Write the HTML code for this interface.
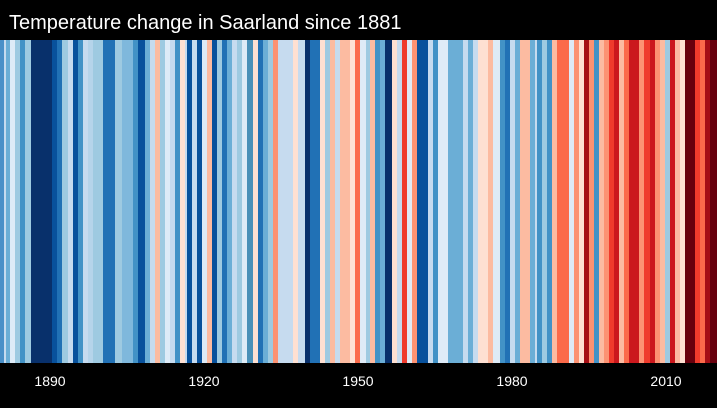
<!DOCTYPE html>
<html><head><meta charset="utf-8"><style>
html,body{margin:0;padding:0;background:#000;}
body{width:717px;height:403px;overflow:hidden;}
</style></head><body>
<svg width="717" height="403" xmlns="http://www.w3.org/2000/svg" font-family="Liberation Sans, sans-serif">
<rect width="717" height="403" fill="#000"/>
<text x="9" y="29" fill="#fff" font-size="20">Temperature change in Saarland since 1881</text>
<g id="s" shape-rendering="crispEdges"></g>
<g fill="#fff" font-size="14" text-anchor="middle">
<text x="50" y="386">1890</text>
<text x="204" y="386">1920</text>
<text x="358" y="386">1950</text>
<text x="512" y="386">1980</text>
<text x="666" y="386">2010</text>
</g>
</svg>
<script>
var d=[[0,"#4a90c8"],[4,"#c6dbef"],[6,"#6baed6"],[10,"#deebf7"],[15,"#9ecae1"],[20,"#4292c6"],[25,"#9ecae1"],[31,"#08306b"],[52,"#08519c"],[57,"#2171b5"],[62,"#9ecae1"],[68,"#c6dbef"],[73,"#08519c"],[78,"#4292c6"],[83,"#c6dbef"],[88,"#b5d4ea"],[93,"#9ecae1"],[103,"#2171b5"],[115,"#9ecae1"],[122,"#7fb8dc"],[133,"#4292c6"],[138,"#08519c"],[145,"#6baed6"],[150,"#c6dbef"],[155,"#fcbba1"],[160,"#9ecae1"],[165,"#deebf7"],[170,"#c6dbef"],[175,"#4292c6"],
[180,"#fee0d2"],[185,"#c6dbef"],[187,"#08519c"],[192,"#c6dbef"],[197,"#08519c"],[202,"#deebf7"],[207,"#fcbba1"],[212,"#08519c"],[217,"#9ecae1"],[222,"#2171b5"],[227,"#6baed6"],[232,"#c6dbef"],[237,"#9ecae1"],[242,"#deebf7"],[247,"#4a90b8"],[253,"#fee0d2"],[258,"#2171b5"],[263,"#6baed6"],[268,"#9ecae1"],[273,"#fc9272"],[278,"#c6dbef"],[293,"#fee0d2"],[298,"#c6dbef"],[305,"#08306b"],[310,"#2171b5"],[320,"#fee0d2"],[325,"#9ecae1"],[330,"#fcbba1"],[335,"#c6dbef"],[340,"#fcbba1"],[350,"#fee0d2"],[355,"#fb6a4a"],
[360,"#deebf7"],[366,"#9ecae1"],[370,"#fcbba1"],[375,"#4292c6"],[380,"#6baed6"],[385,"#08306b"],[392,"#fee0d2"],[397,"#c6dbef"],[402,"#ef3b2c"],[407,"#deebf7"],[412,"#fc9272"],[417,"#08519c"],[428,"#c6dbef"],[433,"#4292c6"],[438,"#deebf7"],[448,"#6baed6"],[463,"#c6dbef"],[468,"#6baed6"],[473,"#c6dbef"],[478,"#fee0d2"],[488,"#fcbba1"],[493,"#deebf7"],[500,"#4292c6"],[505,"#2171b5"],[510,"#c6dbef"],[515,"#6baed6"],[520,"#fcbba1"],[530,"#6baed6"],[535,"#c6dbef"],
[537,"#4292c6"],[542,"#9ecae1"],[547,"#4292c6"],[552,"#fcbba1"],[557,"#fb6a4a"],[569,"#deebf7"],[574,"#fc9272"],[579,"#fee0d2"],[584,"#a50f15"],[589,"#fc9272"],[594,"#4292c6"],[599,"#fcbba1"],[604,"#fc9272"],[609,"#ef3b2c"],[614,"#cb181d"],[619,"#fcbba1"],[624,"#fb6a4a"],[629,"#cb181d"],[639,"#fc9272"],[644,"#ef3b2c"],[650,"#cb181d"],[655,"#fc9272"],[660,"#fcbba1"],[665,"#9ecae1"],[670,"#cb181d"],[675,"#fcbba1"],[680,"#fee0d2"],[685,"#67000d"],[695,"#ef3b2c"],[700,"#fb6a4a"],[705,"#a50f15"],[710,"#67000d"],[717,""]];
var g=document.getElementById("s"),h="";
for(var i=0;i<d.length-1;i++){h+='<rect x="'+d[i][0]+'" y="40" width="'+(d[i+1][0]-d[i][0])+'" height="323" fill="'+d[i][1]+'"/>';}
g.innerHTML=h;
</script>
</body></html>
